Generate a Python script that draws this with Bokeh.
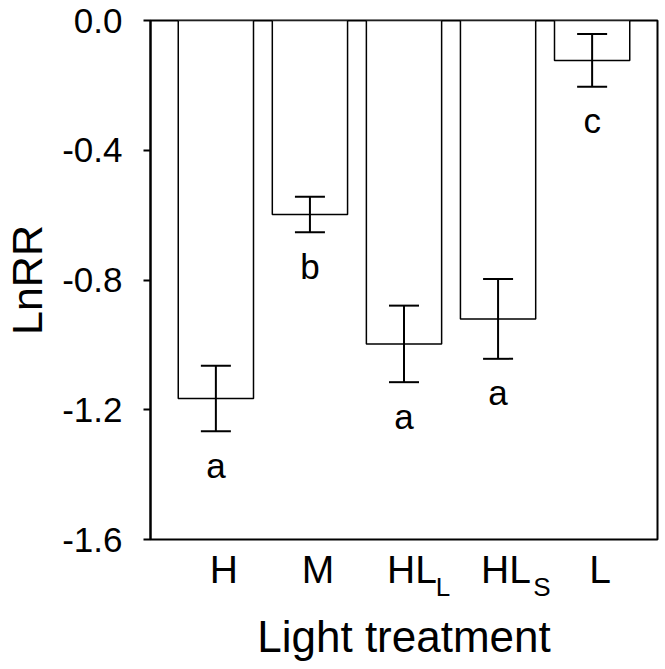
from bokeh.plotting import figure
from bokeh.models import (ColumnDataSource, FixedTicker, NumeralTickFormatter,
                          Whisker, TeeHead, Range1d, LinearAxis)
from bokeh.embed import file_html
from bokeh.resources import INLINE
from bokeh.core.properties import value

# ---- data ----
categories = ["H", "M", "HL_L", "HL_S", "L"]
label_main = ["H", "M", "HL", "HL", "L"]
label_sub = ["", "", "L", "S", ""]
lnrr = [-1.165, -0.598, -0.997, -0.92, -0.123]
se = [0.101, 0.055, 0.118, 0.123, 0.081]
letters = ["a", "b", "a", "a", "c"]
y_ticks = [0.0, -0.4, -0.8, -1.2, -1.6]

FONT = "Liberation Sans"
W, H = 664, 668
FRAME_L, FRAME_R, FRAME_T, FRAME_B = 149, 657, 20, 539
PAD = 0.195                      # x padding (each side) in category units
MAIN_SHIFT_PX = 8                # tick labels sit a little right of bar centres
SUB_SHIFT_PX = [0, 0, 39, 44, 0]  # subscript centres relative to bar centres

n = len(categories)
xpos = [i + 0.5 for i in range(n)]          # category slot centres
upper = [m + s for m, s in zip(lnrr, se)]
lower = [m - s for m, s in zip(lnrr, se)]
src = ColumnDataSource(dict(x=xpos, cat=categories, y=lnrr, upper=upper, lower=lower,
                            letter=letters))

p = figure(x_range=Range1d(-PAD, n + PAD), y_range=Range1d(-1.6, 0.0), x_axis_location=None,
           width=W, height=H, output_backend="svg", toolbar_location=None,
           min_border_left=FRAME_L, min_border_right=W - FRAME_R,
           min_border_top=FRAME_T, min_border_bottom=H - FRAME_B)

p.xgrid.visible = False
p.ygrid.visible = False
p.outline_line_color = "black"
p.outline_line_width = 2
p.background_fill_color = "white"
p.border_fill_color = "white"

# bars
p.vbar(x="x", top=0, bottom="y", width=0.8, source=src,
       fill_color="white", line_color="black", line_width=1.5)

# error bars
w = Whisker(base="x", upper="upper", lower="lower", source=src,
            line_color="black", line_width=2, level="overlay",
            upper_head=TeeHead(size=30, line_width=2, line_color="black"),
            lower_head=TeeHead(size=30, line_width=2, line_color="black"))
p.add_layout(w)

# significance letters
p.text(x="x", y="lower", text="letter", source=src, text_align="center",
       text_baseline="alphabetic", y_offset=34, text_font=value(FONT),
       text_font_size="35px", text_color="black")

# y axis
yax = p.yaxis[0]
yax.ticker = FixedTicker(ticks=y_ticks)
yax.formatter = NumeralTickFormatter(format="0.0")
yax.minor_tick_line_color = None
yax.major_tick_in = 0
yax.major_tick_out = 7
yax.major_tick_line_width = 2
yax.axis_line_width = 2
yax.major_label_text_font = FONT
yax.major_label_text_font_size = "35px"
yax.major_label_text_color = "black"
yax.major_label_standoff = 21
yax.axis_label = "LnRR"
yax.axis_label_text_font = FONT
yax.axis_label_text_font_size = "43px"
yax.axis_label_text_font_style = "normal"
yax.axis_label_text_color = "black"
yax.axis_label_standoff = 8

# x tick labels (category names with subscripts) on two stacked axes
ppu = (FRAME_R - FRAME_L) / (n + 2 * PAD)
main_ticks = [round(x + MAIN_SHIFT_PX / ppu, 4) for x in xpos]
ax_main = LinearAxis(ticker=FixedTicker(ticks=main_ticks),
                     major_label_overrides={t: s for t, s in zip(main_ticks, label_main)})
sub_idx = [i for i, s in enumerate(label_sub) if s]
sub_ticks = [round(xpos[i] + SUB_SHIFT_PX[i] / ppu, 4) for i in sub_idx]
ax_sub = LinearAxis(ticker=FixedTicker(ticks=sub_ticks),
                    major_label_overrides={t: label_sub[i] for t, i in zip(sub_ticks, sub_idx)})

for ax, size, standoff in ((ax_main, "39px", 8), (ax_sub, "26px", -22)):
    ax.axis_line_color = None
    ax.major_tick_line_color = None
    ax.minor_tick_line_color = None
    ax.major_tick_in = 0
    ax.major_tick_out = 0
    ax.major_label_text_font = FONT
    ax.major_label_text_font_size = size
    ax.major_label_text_color = "black"
    ax.major_label_standoff = standoff

ax_sub.axis_label = "Light treatment"
ax_sub.axis_label_text_font = FONT
ax_sub.axis_label_text_font_size = "44px"
ax_sub.axis_label_text_font_style = "normal"
ax_sub.axis_label_text_color = "black"
ax_sub.axis_label_standoff = 7

p.add_layout(ax_main, "below")
p.add_layout(ax_sub, "below")

open("out.html", "w").write(file_html(p, INLINE))
